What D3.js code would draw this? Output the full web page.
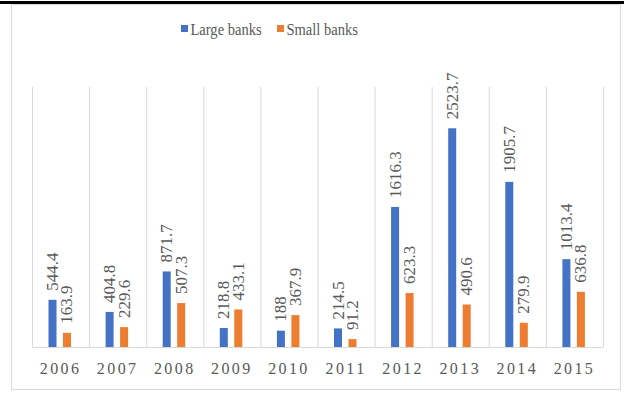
<!DOCTYPE html>
<html>
<head>
<meta charset="utf-8">
<script src="https://cdn.jsdelivr.net/npm/d3@7"></script>
<style>
  body { margin: 0; background: #fff; }
  svg text { font-family: "Liberation Serif", "Times New Roman", serif; fill: #595959; }
</style>
</head>
<body>
<div id="chart"></div>
<script>
// chart data
const years = ["2006", "2007", "2008", "2009", "2010", "2011", "2012", "2013", "2014", "2015"];
const seriesNames = ["Large banks", "Small banks"];
const largeBanks = [544.4, 404.8, 871.7, 218.8, 188, 214.5, 1616.3, 2523.7, 1905.7, 1013.4];
const smallBanks = [163.9, 229.6, 507.3, 433.1, 367.9, 91.2, 623.3, 490.6, 279.9, 636.8];
const colors = ["#4472C4", "#ED7D31"];

const width = 624, height = 393;
const margin = { top: 87, right: 21, bottom: 46, left: 32 };

const svg = d3.select("#chart")
    .append("svg")
    .attr("width", width)
    .attr("height", height);

// cut-off title rule at the very top
svg.append("rect")
    .attr("x", 0).attr("y", 1)
    .attr("width", width).attr("height", 3)
    .attr("fill", "#000");

// chart frame
svg.append("rect")
    .attr("x", 11.5).attr("y", 4.5)
    .attr("width", 609).attr("height", 385)
    .attr("fill", "none")
    .attr("stroke", "#d9d9d9");

const x = d3.scaleBand()
    .domain(years)
    .range([margin.left, width - margin.right]);

const xSub = d3.scaleBand()
    .domain(seriesNames)
    .range([16.5, 39])
    .paddingInner(0.448);

const y = d3.scaleLinear()
    .domain([0, 3000])
    .range([height - margin.bottom, margin.top]);

// vertical gridlines at category boundaries
const bounds = years.map(d => x(d)).concat([x.range()[1]]);
svg.append("g")
    .selectAll("line")
    .data(bounds)
    .join("line")
    .attr("x1", d => d + 0.5).attr("x2", d => d + 0.5)
    .attr("y1", y(3000)).attr("y2", y(0))
    .attr("stroke", "#d9d9d9");

// baseline
svg.append("line")
    .attr("x1", x.range()[0]).attr("x2", x.range()[1])
    .attr("y1", y(0) + 0.5).attr("y2", y(0) + 0.5)
    .attr("stroke", "#d9d9d9");

const rows = years.map((yr, i) => ({ year: yr, values: [largeBanks[i], smallBanks[i]] }));

const groups = svg.append("g")
    .selectAll("g")
    .data(rows)
    .join("g")
    .attr("transform", d => `translate(${x(d.year)},0)`);

groups.selectAll("rect")
    .data(d => d.values.map((v, j) => ({ name: seriesNames[j], value: v, color: colors[j] })))
    .join("rect")
    .attr("x", d => xSub(d.name))
    .attr("y", d => y(d.value))
    .attr("width", xSub.bandwidth())
    .attr("height", d => y(0) - y(d.value))
    .attr("fill", d => d.color);

// rotated value labels above the bars
groups.selectAll("text")
    .data(d => d.values.map((v, j) => ({ name: seriesNames[j], value: v })))
    .join("text")
    .attr("transform", d => `translate(${xSub(d.name) + xSub.bandwidth() / 2 + 5.5},${y(d.value) - 9}) rotate(-90)`)
    .attr("font-size", 17)
    .text(d => d.value);

// year labels
svg.append("g")
    .selectAll("text")
    .data(years)
    .join("text")
    .attr("x", d => x(d) + x.bandwidth() / 2)
    .attr("y", 374)
    .attr("text-anchor", "middle")
    .attr("font-size", 16)
    .attr("letter-spacing", "2.4px")
    .text(d => d);

// legend
const legendX = [181, 277];
const legend = svg.append("g")
    .selectAll("g")
    .data(seriesNames)
    .join("g")
    .attr("transform", (d, i) => `translate(${legendX[i]},25)`);

legend.append("rect")
    .attr("width", 7).attr("height", 7)
    .attr("fill", (d, i) => colors[i]);

legend.append("text")
    .attr("transform", "translate(9.5,9.5) scale(0.88,1)")
    .attr("font-size", 16.5)
    .text(d => d);
</script>
</body>
</html>
